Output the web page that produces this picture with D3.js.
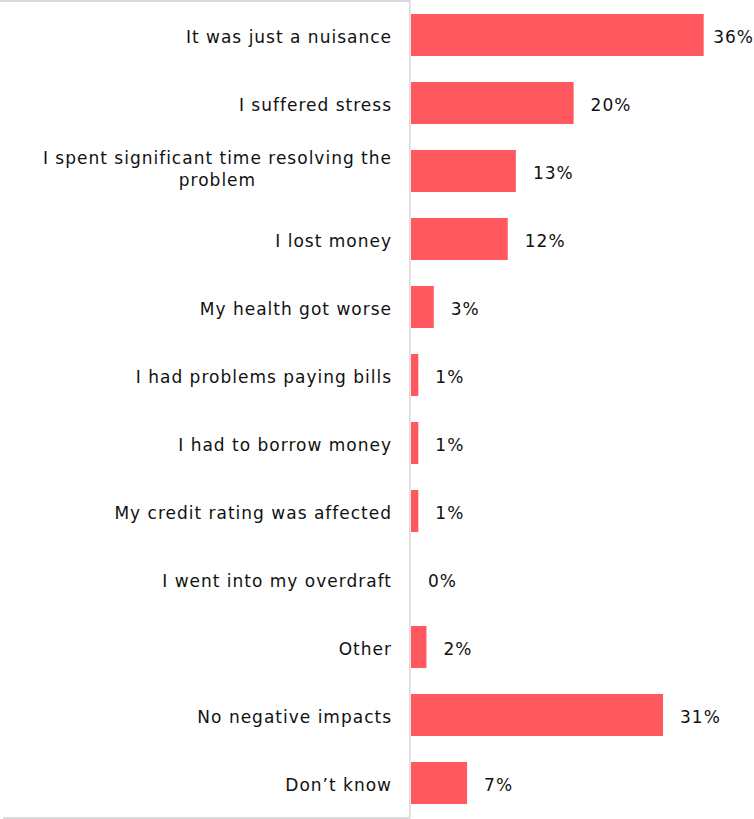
<!DOCTYPE html>
<html><head><meta charset="utf-8">
<script src="https://cdn.jsdelivr.net/npm/d3@7"></script>
<style>body{margin:0;background:#fff;} svg{display:block;}</style>
</head><body>
<script>
const categories = ["It was just a nuisance","I suffered stress","I spent significant time resolving the problem","I lost money","My health got worse","I had problems paying bills","I had to borrow money","My credit rating was affected","I went into my overdraft","Other","No negative impacts","Don\u2019t know"];
const values = [36,20,12.9,11.9,2.8,0.9,0.9,0.9,0,1.9,31,6.9];
const valueLabels = ["36%","20%","13%","12%","3%","1%","1%","1%","0%","2%","31%","7%"];

const W = 754, H = 819;
const svg = d3.select("body").append("svg").attr("width", W).attr("height", H);
const x0 = 411;
const x = d3.scaleLinear().domain([0, 36]).range([x0, 703.7]);
const y = d3.scaleBand().domain(categories).range([1, 817]).paddingInner(0.382).paddingOuter(0.191);
const font = "DejaVu Sans, Verdana, sans-serif";
const fs = 17, ls = 1;

// borders
svg.append("line").attr("x1",0).attr("x2",410).attr("y1",1).attr("y2",1).attr("stroke","#d9d9d9").attr("stroke-width",2);
svg.append("line").attr("x1",3).attr("x2",410).attr("y1",818).attr("y2",818).attr("stroke","#d9d9d9").attr("stroke-width",2);
svg.append("line").attr("x1",409.8).attr("x2",409.8).attr("y1",0).attr("y2",819).attr("stroke","#d9d9d9").attr("stroke-width",1.6);

svg.selectAll("rect.bar").data(categories).enter().append("rect")
  .attr("class","bar")
  .attr("x", x0)
  .attr("y", d => y(d))
  .attr("width", (d,i) => x(values[i]) - x0)
  .attr("height", y.bandwidth())
  .attr("fill", "#ff585e");

// category labels
const wrap = {"I spent significant time resolving the problem": ["I spent significant time resolving the","problem"]};
categories.forEach((c,i) => {
  const cy = y(c) + y.bandwidth()/2;
  const lines = wrap[c] || [c];
  const n = lines.length;
  const t = svg.append("text").attr("font-family", font).attr("font-size", fs).attr("letter-spacing", ls).attr("fill","#111");
  lines.forEach((ln,j) => {
    t.append("tspan").attr("x",0).attr("y", cy + (j - (n-1)/2)*22 + (n > 1 ? 4 : 7.5)).attr("text-anchor","middle").text(ln);
  });
  const bb = t.node().getBBox();
  t.attr("transform", `translate(${392 - bb.x - bb.width},0)`);
});

// value labels
categories.forEach((c,i) => {
  const cy = y(c) + y.bandwidth()/2;
  const t = svg.append("text").attr("font-family", font).attr("font-size", fs).attr("letter-spacing", ls).attr("fill","#111")
    .attr("x", x(values[i]) + 17).attr("y", cy + 7.5).text(valueLabels[i]);
  const w = t.node().getComputedTextLength();
  if (x(values[i]) + 17 + w > W) t.attr("x", W - w);
});
</script>
</body></html>
